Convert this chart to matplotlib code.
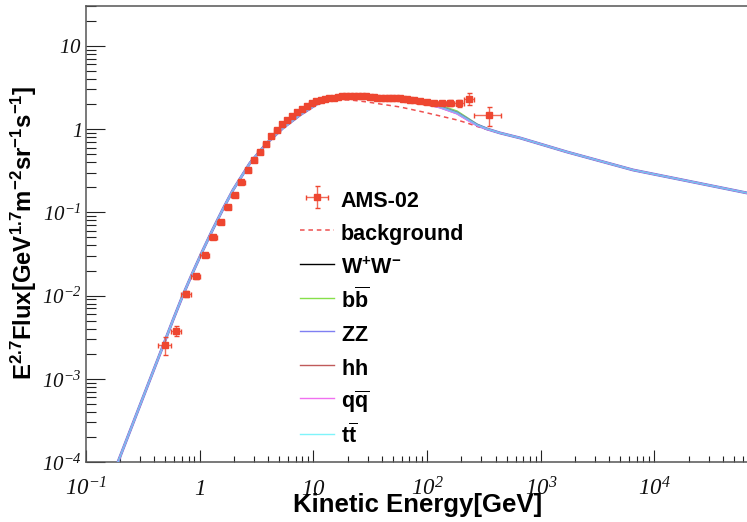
import matplotlib

matplotlib.use("Agg")

import matplotlib.pyplot as plt
import matplotlib.transforms as mtransforms
from matplotlib.lines import Line2D


OUTPUT_FILE = "out.png"

# AMS-02 antiproton points: kinetic energy bin centres, half widths [GeV]
# and E^2.7-weighted flux with its uncertainty.
AMS_ENERGY = [
    0.494, 0.622, 0.765, 0.926, 1.106, 1.304, 1.524, 1.766, 2.034, 2.330,
    2.652, 3.006, 3.390, 3.811, 4.272, 4.775, 5.318, 5.907, 6.546, 7.236,
    7.982, 8.787, 9.654, 10.60, 11.60, 12.64, 13.79, 15.04, 16.39, 17.84,
    19.38, 21.03, 22.83, 24.78, 26.83, 29.03, 31.38, 33.87, 36.57, 39.47,
    42.57, 45.87, 49.42, 53.22, 57.27, 61.62, 66.32, 71.37, 76.77, 85.82,
    99.57, 115.57, 135.07, 160.06, 192.06, 234.06, 353.56,
]
AMS_ENERGY_HALF_WIDTH = [
    0.061, 0.068, 0.076, 0.086, 0.094, 0.105, 0.116, 0.127, 0.142, 0.154,
    0.169, 0.185, 0.200, 0.221, 0.241, 0.262, 0.282, 0.308, 0.332, 0.358,
    0.388, 0.418, 0.449, 0.498, 0.499, 0.549, 0.599, 0.649, 0.699, 0.749,
    0.800, 0.849, 0.950, 0.999, 1.050, 1.150, 1.200, 1.300, 1.400, 1.500,
    1.600, 1.700, 1.850, 1.950, 2.100, 2.250, 2.450, 2.600, 2.800, 6.25,
    7.50, 8.50, 11.0, 14.0, 18.0, 24.0, 95.5,
]
AMS_FLUX = [
    0.00255, 0.00376, 0.0105, 0.0172, 0.0308, 0.0506, 0.0767, 0.116, 0.162, 0.232,
    0.323, 0.427, 0.532, 0.664, 0.828, 0.977, 1.155, 1.29, 1.44, 1.61,
    1.75, 1.90, 2.04, 2.15, 2.24, 2.31, 2.37, 2.40, 2.44, 2.47,
    2.47, 2.51, 2.47, 2.51, 2.47, 2.47, 2.44, 2.44, 2.40, 2.40,
    2.37, 2.37, 2.34, 2.34, 2.34, 2.31, 2.31, 2.27, 2.24, 2.15,
    2.12, 2.07, 2.07, 2.07, 2.04, 2.31, 1.48,
]
AMS_FLUX_ERR = [
    0.0006, 0.0005, 0.0009, 0.0012, 0.0018, 0.0025, 0.0035, 0.005, 0.007, 0.009,
    0.012, 0.015, 0.018, 0.022, 0.027, 0.031, 0.036, 0.040, 0.045, 0.050,
    0.054, 0.058, 0.062, 0.065, 0.068, 0.070, 0.070, 0.071, 0.072, 0.073,
    0.074, 0.075, 0.076, 0.077, 0.078, 0.079, 0.080, 0.081, 0.082, 0.083,
    0.084, 0.086, 0.088, 0.090, 0.095, 0.100, 0.105, 0.110, 0.115, 0.10,
    0.11, 0.12, 0.13, 0.15, 0.18, 0.38, 0.39,
]

# Secondary background prediction on a common energy grid.
MODEL_ENERGY = [
    0.1911, 0.4755, 0.5823, 0.7130, 0.8731, 1.069, 1.309, 1.603, 1.963, 2.770,
    3.907, 5.402, 7.623, 10.76, 14.87, 20.98, 29.61, 40.94, 57.77, 92.02,
    129.9, 183.2, 224.3, 274.8, 336.4, 437.7, 656.3, 1700.0, 6470.0, 25130.0,
    65100.0,
]
BACKGROUND_FLUX = [
    1.0e-4, 2.478e-3, 5.09e-3, 0.01017, 0.01922, 0.03533, 0.0632, 0.1099, 0.1858, 0.3925,
    0.6826, 1.034, 1.482, 1.98, 2.244, 2.244, 2.123, 1.982, 1.848, 1.609,
    1.441, 1.290, 1.187, 1.078, 0.992, 0.900, 0.784, 0.532, 0.3233, 0.2226,
    0.1711,
]

# Background + dark matter totals, where they depart from the background
# (grid points 10.76 ... 437.7 GeV).
SIGNAL_START = 13
SIGNAL_STOP = 26
WW_FLUX = [2.009, 2.335, 2.435, 2.430, 2.360, 2.235, 2.060, 1.850, 1.570, 1.330, 1.125, 1.006, 0.900]
BB_FLUX = [2.009, 2.339, 2.445, 2.455, 2.400, 2.290, 2.120, 1.920, 1.640, 1.370, 1.140, 1.010, 0.900]
ZZ_FLUX = [2.009, 2.339, 2.438, 2.438, 2.371, 2.244, 2.065, 1.848, 1.565, 1.326, 1.123, 1.006, 0.900]
HH_FLUX = [2.009, 2.340, 2.440, 2.440, 2.375, 2.250, 2.070, 1.855, 1.570, 1.328, 1.122, 1.006, 0.900]
QQ_FLUX = [2.009, 2.330, 2.425, 2.420, 2.350, 2.220, 2.040, 1.820, 1.540, 1.300, 1.110, 1.000, 0.900]
TT_FLUX = [2.009, 2.339, 2.438, 2.438, 2.371, 2.244, 2.065, 1.848, 1.565, 1.326, 1.123, 1.006, 0.900]

# label, values, line colour, plotted width, legend colour
CHANNELS = [
    (r"$\mathbf{W^{+}W^{-}}$", WW_FLUX, "#000000", 1.0, "#000000"),
    (r"$\mathbf{b\overline{b}}$", BB_FLUX, "#86e04a", 1.4, "#86e04a"),
    (r"$\mathbf{ZZ}$", ZZ_FLUX, "#5a86e6", 2.1, "#7f7ff2"),
    (r"$\mathbf{hh}$", HH_FLUX, "#c05a5a", 1.2, "#c05a5a"),
    (r"$\mathbf{q\overline{q}}$", QQ_FLUX, "#f070f0", 1.4, "#f070f0"),
    (r"$\mathbf{t\overline{t}}$", TT_FLUX, "#66c8f0", 1.0, "#7ff4fa"),
]

X_TICKS = [0.1, 1, 10, 100, 1000, 10000]
X_TICK_LABELS = [r"$10^{-1}$", r"$1$", r"$10$", r"$10^{2}$", r"$10^{3}$", r"$10^{4}$"]
Y_TICKS = [1e-4, 1e-3, 1e-2, 1e-1, 1, 10]
Y_TICK_LABELS = [r"$10^{-4}$", r"$10^{-3}$", r"$10^{-2}$", r"$10^{-1}$", r"$1$", r"$10$"]

DATA_COLOR = "#ee4630"
AXIS_COLOR = "#555555"


def channel_curve(channel_flux):
    """Join a channel's total flux onto the background outside its range."""
    return (
        BACKGROUND_FLUX[:SIGNAL_START]
        + list(channel_flux)
        + BACKGROUND_FLUX[SIGNAL_STOP:]
    )


def main():
    plt.rcParams["font.family"] = ["Liberation Sans", "DejaVu Sans"]
    plt.rcParams["mathtext.fontset"] = "custom"
    plt.rcParams["mathtext.rm"] = "Liberation Serif:italic"
    plt.rcParams["mathtext.it"] = "Liberation Serif:italic"
    plt.rcParams["mathtext.bf"] = "Liberation Sans:bold"

    fig = plt.figure(figsize=(7.47, 5.22), dpi=100)
    ax = fig.add_axes([86 / 747, 60 / 522, 1 - 86 / 747, 456 / 522])

    ax.set_xscale("log")
    ax.set_yscale("log")
    ax.set_xlim(0.1, 65100)
    ax.set_ylim(1e-4, 30.2)

    bg_line, = ax.plot(
        MODEL_ENERGY, BACKGROUND_FLUX,
        color="#ee5050", linestyle=(0, (3, 2.5)), linewidth=1.1,
        label="background", zorder=2,
    )

    # thin stand-ins so the legend keys stay 1px wide
    legend_lines = []
    for label, flux, color, width, key_color in CHANNELS:
        ax.plot(
            MODEL_ENERGY, channel_curve(flux),
            color=color, linewidth=width, zorder=3,
        )
        legend_lines.append(
            Line2D([], [], color=key_color, linewidth=1.0, label=label)
        )

    ams = ax.errorbar(
        AMS_ENERGY, AMS_FLUX,
        xerr=AMS_ENERGY_HALF_WIDTH, yerr=AMS_FLUX_ERR,
        fmt="s", color=DATA_COLOR, markersize=5.0, elinewidth=1.0,
        capsize=1.8, capthick=1.0, label="AMS-02", zorder=4,
    )
    for bar in ams[2]:
        bar.set_alpha(0.8)

    # ROOT-like frame: inward ticks on the left and bottom only
    ax.spines["right"].set_visible(False)
    for side in ["left", "bottom", "top"]:
        ax.spines[side].set_color(AXIS_COLOR)
        ax.spines[side].set_linewidth(1.1)

    ax.set_xticks(X_TICKS)
    ax.set_yticks(Y_TICKS)
    ax.tick_params(
        which="both", direction="in", colors="#222222", width=0.8,
        labelbottom=False, labelleft=False, top=False, right=False,
    )
    ax.tick_params(axis="x", which="major", length=9)
    ax.tick_params(axis="x", which="minor", length=4.5)
    ax.tick_params(axis="y", which="major", length=14)
    ax.tick_params(axis="y", which="minor", length=7)

    x_trans = mtransforms.offset_copy(
        ax.get_xaxis_transform(), fig=fig, y=-33, units="dots"
    )
    for value, label in zip(X_TICKS, X_TICK_LABELS):
        ax.text(
            value, 0, label, transform=x_trans,
            ha="center", va="baseline", fontsize=16.5, color="#111111",
        )

    y_trans = mtransforms.offset_copy(
        ax.get_yaxis_transform(), fig=fig, x=-4, y=-2, units="dots"
    )
    for value, label in zip(Y_TICKS, Y_TICK_LABELS):
        ax.text(
            0, value, label, transform=y_trans,
            ha="right", va="center", fontsize=15, color="#111111",
        )

    fig.text(
        418 / 747, 1 - 512 / 522, "Kinetic Energy[GeV]",
        ha="center", va="baseline", fontsize=18.5, fontweight="bold",
    )
    fig.text(
        24 / 747, 1 - 233 / 522,
        r"$\mathbf{E^{2.7}Flux[GeV^{1.7}m^{-2}sr^{-1}s^{-1}]}$",
        rotation=90, ha="center", va="center", fontsize=17.2,
    )

    handles = [ams, bg_line] + legend_lines
    ax.legend(
        handles=handles,
        labels=[h.get_label() for h in handles],
        loc="upper left",
        bbox_to_anchor=(300 / 747, 1 - 187 / 522),
        bbox_transform=fig.transFigure,
        frameon=False,
        borderpad=0,
        borderaxespad=0,
        handlelength=1.6,
        handleheight=1.4,
        handletextpad=0.3,
        labelspacing=0.40,
        prop={"family": "Liberation Sans", "weight": "bold", "size": 15.5},
    )

    fig.savefig(OUTPUT_FILE, dpi=100)
    plt.close(fig)


if __name__ == "__main__":
    main()
